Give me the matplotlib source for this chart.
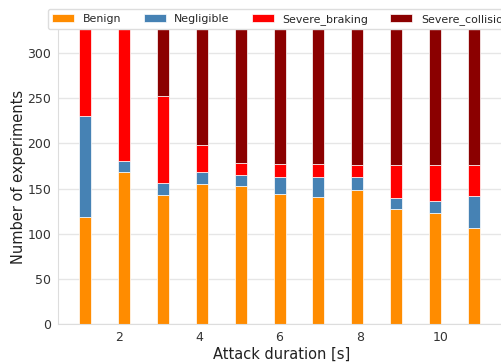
import numpy as np
import matplotlib
matplotlib.use("Agg")
import matplotlib.pyplot as plt
import seaborn as sns

# Outcome counts per attack duration (stacked bottom to top)
durations = np.arange(1, 12)
benign = [119, 168, 143, 155, 153, 144, 141, 148, 128, 123, 107]
negligible = [111, 13, 13, 13, 12, 19, 22, 15, 12, 13, 35]
severe_braking = [170, 219, 97, 30, 13, 14, 14, 13, 36, 40, 34]
experiments_per_duration = 400
severe_collision = [experiments_per_duration - (b + n + s)
                    for b, n, s in zip(benign, negligible, severe_braking)]

series_names = ["Benign", "Negligible", "Severe_braking", "Severe_collision"]
series_colors = ["darkorange", "steelblue", "red", "darkred"]
tick_values = [2, 4, 6, 8, 10]

sns.set_style("whitegrid")
plt.rcParams["font.family"] = ["DejaVu Sans"]

fig = plt.figure(figsize=(5.01, 3.62), dpi=100)
ax = fig.add_axes([0.1164, 0.1041, 0.8896, 0.813])

bottom = np.zeros(len(durations))
for name, color, values in zip(series_names, series_colors,
                               [benign, negligible, severe_braking, severe_collision]):
    ax.bar(durations, values, width=0.31, bottom=bottom, color=color,
           edgecolor="white", linewidth=0.5, label=name)
    bottom += np.asarray(values)

ax.set_ylim(0, 325.5)
ax.set_xlim(0.305, 11.775)
ax.set_yticks([0, 50, 100, 150, 200, 250, 300])
# duration ticks sit on a slightly wider scale than the bar slots
tick_pos = [1.0341 * v - 0.2082 for v in tick_values]
ax.set_xticks(tick_pos, [str(v) for v in tick_values])

ax.grid(axis="x", visible=False)
ax.grid(axis="y", color="#e6e6e6", linewidth=1.0)
for side in ["top", "right"]:
    ax.spines[side].set_visible(False)
for side in ["left", "bottom"]:
    ax.spines[side].set_color("#dddddd")
ax.tick_params(axis="both", labelsize=9, colors="#333333", length=0, pad=5)

ax.set_xlabel("Attack duration [s]", fontsize=10.5, color="#222222", labelpad=2)
ax.set_ylabel("Number of experiments", fontsize=10.5, color="#222222", labelpad=1)

ax.legend(loc="lower center", bbox_to_anchor=(0.5, 1.0), ncol=4,
          fontsize=7.9, frameon=True, borderaxespad=0.1,
          edgecolor="#dddddd", framealpha=1.0)

fig.savefig("out.png", dpi=100)
